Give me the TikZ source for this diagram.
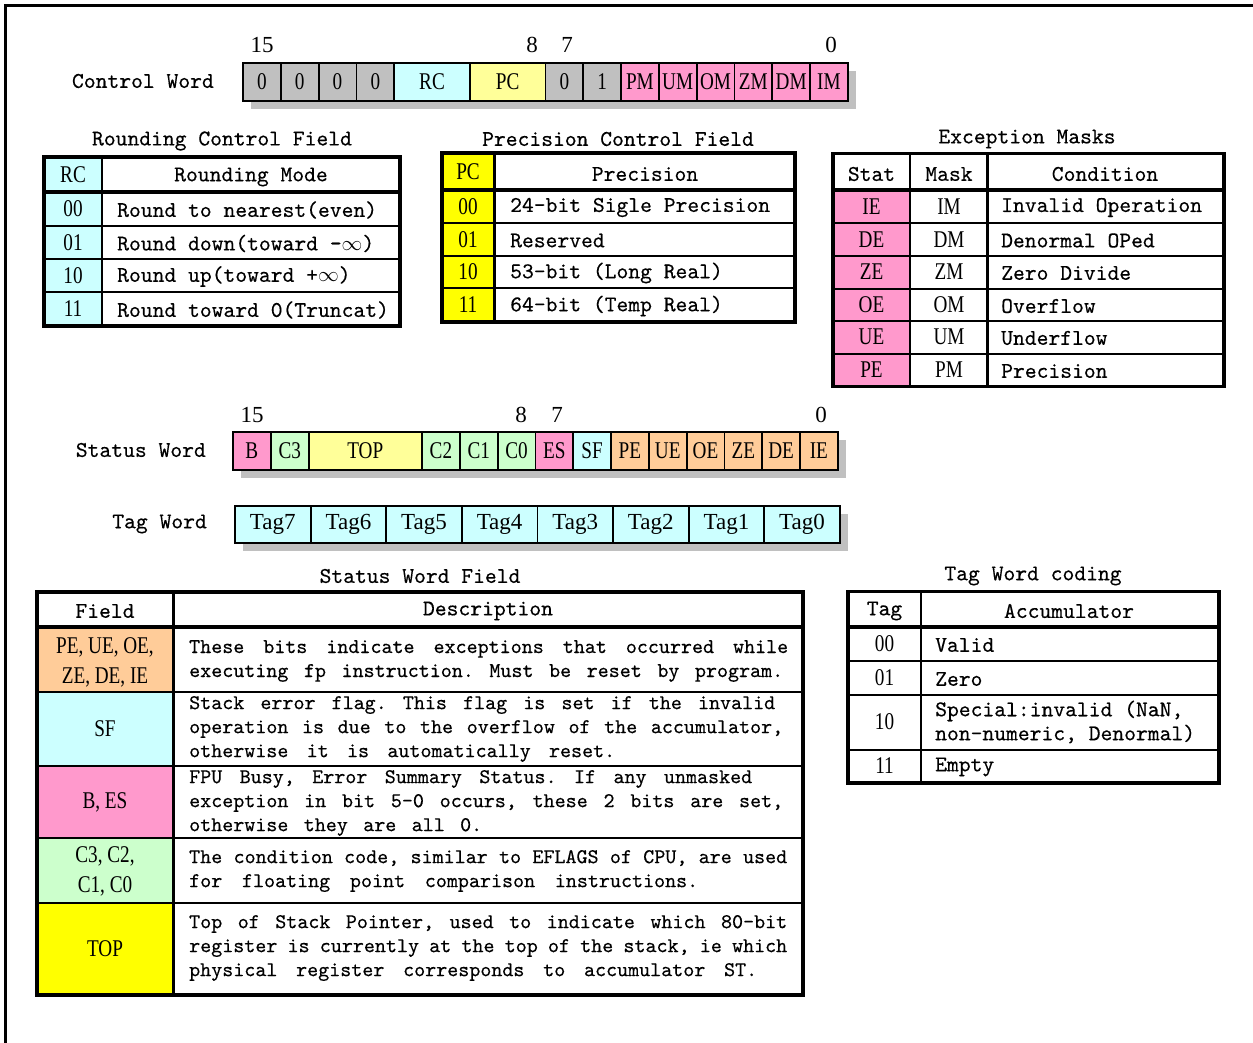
\documentclass[tikz,border=0pt]{standalone}
\usepackage{fontspec}
\setmainfont{Liberation Serif}
\setmonofont{lmmono10-regular.otf}[FakeBold=0.35]
\newfontfamily\narrowSerif{Liberation Serif}[FakeStretch=0.8]
\usetikzlibrary{positioning}
\definecolor{regGray}{RGB}{192,192,192}
\definecolor{regCyan}{RGB}{204,255,255}
\definecolor{regYellow}{RGB}{255,255,153}
\definecolor{regYellowS}{RGB}{255,255,0}
\definecolor{regPink}{RGB}{255,153,204}
\definecolor{regGreen}{RGB}{204,255,204}
\definecolor{regOrange}{RGB}{255,204,153}
\newcommand\monoTxt{\ttfamily\fontsize{22.5}{24}\selectfont}
\newcommand\cellTxt{\narrowSerif\fontsize{24}{30}\selectfont}
\newcommand\tagTxt{\rmfamily\fontsize{23}{30}\selectfont}
\newcommand\descTxt{\ttfamily\fontsize{21}{24}\selectfont\fontdimen3\font=8pt\fontdimen4\font=3pt}
\newcommand\jl[2][599pt]{\makebox[#1][s]{#2}}
\frenchspacing

\begin{document}
\begin{tikzpicture}[x=1pt, y=-1pt,
    bitcell/.style={draw, line width=1.8pt, minimum height=38pt, inner sep=0pt, font=\cellTxt},
    tagcell/.style={bitcell, minimum height=37pt, minimum width=75.6pt, fill=regCyan, font=\tagTxt},
    wordlbl/.style={font=\monoTxt, inner sep=0pt, anchor=east},
    bitnum/.style={font=\tagTxt, inner sep=0pt},
    tbltitle/.style={font=\monoTxt, inner sep=0pt},
    hdtxt/.style={font=\monoTxt, inner sep=0pt},
    celltxt/.style={font=\cellTxt, inner sep=0pt, align=center},
    rowtxt/.style={font=\monoTxt, inner sep=0pt, anchor=west},
    desc/.style={font=\descTxt, inner sep=0pt, anchor=west, align=left},
    frameline/.style={line width=3.5pt},
    hdline/.style={line width=4pt},
    rowline/.style={line width=2pt},
    colline/.style={line width=2.5pt}
  ]
    \useasboundingbox (0,0) rectangle (1253,1043);
    \draw[line width=3pt] (5.5,1043) -- (5.5,5.5) -- (1253,5.5);

    % control word
    \node[wordlbl] (cwlbl) at (214,81) {Control Word};
    \fill[regGray] (251,71) rectangle (856,109);
    \foreach \s/\w/\lbl/\col [count=\i] in {0/1/0/regGray, 1/1/0/regGray, 2/1/0/regGray, 3/1/0/regGray,
        4/2/RC/regCyan, 6/2/PC/regYellow, 8/1/0/regGray, 9/1/1/regGray,
        10/1/PM/regPink, 11/1/UM/regPink, 12/1/OM/regPink, 13/1/ZM/regPink, 14/1/DM/regPink, 15/1/IM/regPink}
      \node[bitcell, fill=\col, minimum width=\w*37.8pt] (cw\i) at ({243+(\s+\w/2)*37.8},82) {\lbl};
    \foreach \b/\x in {15/262, 8/532, 7/567, 0/831}
      \node[bitnum] (cwb\b) at (\x,45) {\b};

    % rounding control field
    \node[tbltitle] (rctitle) at (222,141) {Rounding Control Field};
    \fill[regCyan] (44,157) rectangle (102,326);
    \foreach \y in {226,259,292} \draw[rowline] (44,\y) -- (400,\y);
    \draw[colline] (102,157) -- (102,326);
    \draw[hdline] (44,192) -- (400,192);
    \draw[frameline] (44,157) rectangle (400,326);
    \node[celltxt] (rchd) at (73,175) {RC};
    \node[hdtxt] (rcmode) at (251,177) {Rounding Mode};
    \foreach \c/\y/\txt in {00/209/Round to nearest(even), 01/242.5/Round down(toward -$\infty$),
        10/275.5/Round up(toward +$\infty$), 11/309/Round toward 0(Truncat)} {
      \node[celltxt] (rc\c) at (73,\y) {\c};
      \node[rowtxt] (rcd\c) at (117,\y+1) {\txt};
    }

    % precision control field
    \node[tbltitle] (pctitle) at (618,139) {Precision Control Field};
    \fill[regYellowS] (442,153) rectangle (494.5,322);
    \foreach \y in {223,256,288} \draw[rowline] (442,\y) -- (795,\y);
    \draw[colline] (494.5,153) -- (494.5,322);
    \draw[hdline] (442,190) -- (795,190);
    \draw[frameline] (442,153) rectangle (795,322);
    \node[celltxt] (pchd) at (468,172) {PC};
    \node[hdtxt] (pcprec) at (645,174) {Precision};
    \foreach \c/\y/\txt in {00/206.5/24-bit Sigle Precision, 01/239.5/Reserved,
        10/272/53-bit (Long Real), 11/305/64-bit (Temp Real)} {
      \node[celltxt] (pc\c) at (468,\y) {\c};
      \node[rowtxt] (pcd\c) at (510,\y+1) {\txt};
    }

    % exception masks
    \node[tbltitle] (emtitle) at (1027,139) {Exception Masks};
    \fill[regPink] (833,190) rectangle (910,386.5);
    \foreach \y in {223,256,288.5,321,353.5} \draw[rowline] (833,\y) -- (1224,\y);
    \foreach \x in {910,987.5} \draw[colline] (\x,153.5) -- (\x,386.5);
    \draw[hdline] (833,190) -- (1224,190);
    \draw[frameline] (833,153.5) rectangle (1224,386.5);
    \node[hdtxt] (emstat) at (871.5,174) {Stat};
    \node[hdtxt] (emmask) at (949,174) {Mask};
    \node[hdtxt] (emcond) at (1105,174) {Condition};
    \foreach \e/\m/\txt/\y in {IE/IM/Invalid Operation/206.5, DE/DM/Denormal OPed/239.5,
        ZE/ZM/Zero Divide/272, OE/OM/Overflow/305, UE/UM/Underflow/337, PE/PM/Precision/370} {
      \node[celltxt] (em\e) at (871.5,\y) {\e};
      \node[celltxt] (em\m) at (949,\y) {\m};
      \node[rowtxt] (emd\e) at (1001,\y+1) {\txt};
    }

    % status word
    \node[wordlbl] (swlbl) at (206,450) {Status Word};
    \fill[regGray] (241,440) rectangle (846,478);
    \foreach \s/\w/\lbl/\col [count=\i] in {0/1/B/regPink, 1/1/C3/regGreen, 2/3/TOP/regYellow,
        5/1/C2/regGreen, 6/1/C1/regGreen, 7/1/C0/regGreen, 8/1/ES/regPink, 9/1/SF/regCyan,
        10/1/PE/regOrange, 11/1/UE/regOrange, 12/1/OE/regOrange, 13/1/ZE/regOrange, 14/1/DE/regOrange, 15/1/IE/regOrange}
      \node[bitcell, fill=\col, minimum width=\w*37.8pt] (sw\i) at ({233+(\s+\w/2)*37.8},451) {\lbl};
    \foreach \b/\x in {15/252, 8/521, 7/557, 0/821}
      \node[bitnum] (swb\b) at (\x,415) {\b};

    % tag word
    \node[wordlbl] (twlbl) at (207,524) {Tag Word};
    \fill[regGray] (243,514) rectangle (848,551);
    \foreach \t in {0,...,7}
      \node[tagcell] (tag\t) at ({235+(7-\t+0.5)*75.6},524.5) {Tag\t};

    % status word field
    \node[tbltitle] (sftitle) at (420,576) {Status Word Field};
    \fill[regOrange] (37,627) rectangle (173.5,692);
    \fill[regCyan] (37,692) rectangle (173.5,766);
    \fill[regPink] (37,766) rectangle (173.5,838);
    \fill[regGreen] (37,838) rectangle (173.5,903);
    \fill[regYellowS] (37,903) rectangle (173.5,995);
    \foreach \y in {692,766,838,903} \draw[rowline] (37,\y) -- (803,\y);
    \draw[colline] (173.5,592) -- (173.5,995);
    \draw[hdline] (37,627) -- (803,627);
    \draw[frameline] (37,592) rectangle (803,995);
    \node[hdtxt] (sffield) at (105,611) {Field};
    \node[hdtxt] (sfdesc) at (488,611) {Description};
    \node[celltxt] (sfexc) at (105,662) {PE, UE, OE,\\ZE, DE, IE};
    \node[celltxt] (sfsf) at (105,729) {SF};
    \node[celltxt] (sfbes) at (105,802) {B, ES};
    \node[celltxt] (sfcc) at (105,871) {C3, C2,\\C1, C0};
    \node[celltxt] (sftop) at (105,949) {TOP};
    \node[desc] (sfdexc) at (189,661) {\jl{These bits indicate exceptions that occurred while}\\
      \jl[594pt]{executing fp instruction. Must be reset by program.}};
    \node[desc] (sfdsf) at (189,729) {\jl[586pt]{Stack error flag. This flag is set if the invalid}\\
      \jl[594pt]{operation is due to the overflow of the accumulator,}\\
      \jl[426pt]{otherwise it is automatically reset.}};
    \node[desc] (sfdbes) at (189,803) {\jl[563pt]{FPU Busy, Error Summary Status. If any unmasked}\\
      \jl[594pt]{exception in bit 5-0 occurs, these 2 bits are set,}\\
      \jl[293pt]{otherwise they are all 0.}};
    \node[desc] (sfdcc) at (189,871) {\jl[598pt]{The condition code, similar to EFLAGS of CPU, are used}\\
      \jl[509pt]{for floating point comparison instructions.}};
    \node[desc] (sfdtop) at (189,948) {\jl[598pt]{Top of Stack Pointer, used to indicate which 80-bit}\\
      \jl[598pt]{register is currently at the top of the stack, ie which}\\
      \jl[568pt]{physical register corresponds to accumulator ST.}};

    % tag word coding
    \node[tbltitle] (tctitle) at (1033,576) {Tag Word coding};
    \foreach \y in {661,694.5,749.5} \draw[rowline] (848,\y) -- (1219,\y);
    \draw[colline] (921,591.5) -- (921,783);
    \draw[hdline] (848,627) -- (1219,627);
    \draw[frameline] (848,591.5) rectangle (1219,783);
    \node[hdtxt] (tctag) at (884.5,611) {Tag};
    \node[hdtxt] (tcacc) at (1069,611) {Accumulator};
    \foreach \c/\y/\txt in {00/644/Valid, 01/678/Zero, 11/766/Empty} {
      \node[celltxt] (tc\c) at (884.5,\y) {\c};
      \node[rowtxt] (tcd\c) at (935,\y+1) {\txt};
    }
    \node[celltxt] (tc10) at (884.5,722) {10};
    \node[rowtxt, align=left] (tcd10) at (935,722) {Special:invalid (NaN,\\non-numeric, Denormal)};
  \end{tikzpicture}
\end{document}
